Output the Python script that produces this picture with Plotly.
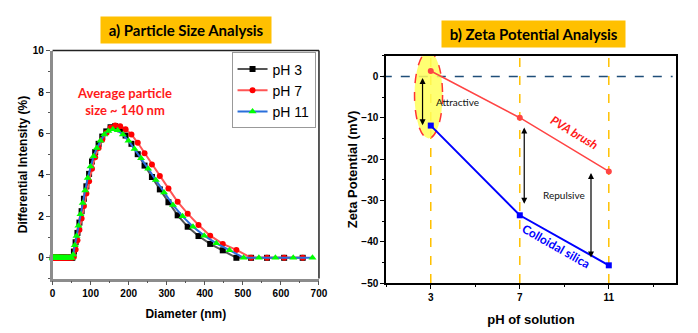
import plotly.graph_objects as go

# ---------------- Panel a: particle size distribution ----------------
diam_a = [0.4, 1.0, 2.0, 3.0, 4.0, 5.0, 6.0, 7.0, 8.0, 9.0, 10.0, 11.0, 12.0, 13.0, 14.0, 15.1,
          16.3, 17.6, 19.0, 20.5, 22.2, 24.0, 25.9, 28.0, 30.2, 32.6, 35.2, 38.1, 41.1, 44.4, 48.0, 51.8,
          56.0, 60.5, 65.3, 70.5, 76.2, 82.3, 88.8, 95.9, 103.6, 111.9, 120.9, 130.5, 141.0, 152.3,
          164.4, 177.6, 191.8, 207.2, 223.7, 241.6, 261.0, 281.8, 304.4, 328.7, 355.0, 383.4, 414.1,
          447.2, 483.0, 521.6, 563.4, 608.5, 657.2]
ph3_int = [0, 0, 0, 0, 0, 0, 0, 0, 0, 0, 0, 0, 0, 0, 0, 0,
           0, 0, 0, 0, 0, 0, 0, 0, 0, 0, 0, 0, 0, 0, 0, 0,
           0.3, 0.75, 1.2, 1.7, 2.25, 2.85, 3.45, 4.05, 4.65, 5.1, 5.5, 5.85, 6.1, 6.3,
           6.35, 6.2, 5.9, 5.5, 5.0, 4.45, 3.9, 3.3, 2.68, 2.05, 1.5, 1.05, 0.67,
           0.36, 0.0, 0.0, 0.0, 0.0, 0.0]
ph7_int = [0, 0, 0, 0, 0, 0, 0, 0, 0, 0, 0, 0, 0, 0, 0, 0,
           0, 0, 0, 0, 0, 0, 0, 0, 0, 0, 0, 0, 0, 0, 0, 0,
           0.05, 0.4, 0.85, 1.35, 1.9, 2.5, 3.1, 3.7, 4.3, 4.85, 5.3, 5.7, 6.02, 6.27,
           6.38, 6.35, 6.2, 5.95, 5.55, 5.05, 4.5, 3.95, 3.35, 2.7, 2.13, 1.58, 1.07,
           0.67, 0.38, 0.0, 0.0, 0.0, 0.0]
diam_b = [0.5, 1.5, 2.5, 3.5, 4.5, 5.5, 6.5, 7.5, 8.5, 9.5, 10.5, 11.5, 12.5, 13.5, 14.6, 15.7,
          16.9, 18.3, 19.7, 21.3, 23.1, 24.9, 26.9, 29.1, 31.4, 33.9, 36.6, 39.6, 42.7, 46.1, 49.9,
          53.9, 58.2, 62.9, 67.9, 73.3, 79.2, 85.5, 92.3, 99.7, 107.7, 116.3, 125.6, 135.7, 146.5,
          158.2, 170.9, 184.6, 199.4, 215.3, 232.5, 251.1, 271.2, 292.9, 316.3, 341.6, 368.9, 398.5,
          430.3, 464.8, 502.0, 542.1, 585.5, 632.4, 683.0]
ph11_int = [0, 0, 0, 0, 0, 0, 0, 0, 0, 0, 0, 0, 0, 0, 0, 0,
            0, 0, 0, 0, 0, 0, 0, 0, 0, 0, 0, 0, 0, 0, 0,
            0.15, 0.6, 1.05, 1.55, 2.1, 2.65, 3.25, 3.85, 4.4, 4.9, 5.3, 5.65, 5.95, 6.12,
            6.2, 6.15, 5.95, 5.65, 5.25, 4.8, 4.3, 3.75, 3.15, 2.55, 2.0, 1.5, 1.07,
            0.7, 0.37, 0.0, 0.0, 0.0, 0.0, 0.0]

# ---------------- Panel b: zeta potential ----------------
ph_vals = [3, 7, 11]
pva_zeta = [1.3, -10.0, -23.0]
silica_zeta = [-11.9, -33.6, -45.7]

BOLD = "Liberation Sans"
GILL = "Lato"

fig = go.Figure()
fig.add_trace(go.Scatter(x=diam_a, y=ph3_int, name="pH 3", mode="lines+markers",
                         line=dict(color="#555555", width=2),
                         marker=dict(symbol="square", size=6, color="#000000"),
                         cliponaxis=False, xaxis="x", yaxis="y"))
fig.add_trace(go.Scatter(x=diam_a, y=ph7_int, name="pH 7", mode="lines+markers",
                         line=dict(color="#ff5555", width=2),
                         marker=dict(symbol="circle", size=6, color="#ff0000"),
                         cliponaxis=False, xaxis="x", yaxis="y"))
fig.add_trace(go.Scatter(x=diam_b, y=ph11_int, name="pH 11", mode="lines+markers",
                         line=dict(color="#2a6fdb", width=2),
                         marker=dict(symbol="triangle-up", size=7, color="#00ff00"),
                         cliponaxis=False, xaxis="x", yaxis="y"))

fig.add_trace(go.Scatter(x=ph_vals, y=pva_zeta, mode="lines+markers", showlegend=False,
                         line=dict(color="#ff4444", width=1.5),
                         marker=dict(symbol="circle", size=6, color="#ff4444"),
                         cliponaxis=False, xaxis="x2", yaxis="y2"))
fig.add_trace(go.Scatter(x=ph_vals, y=silica_zeta, mode="lines+markers", showlegend=False,
                         line=dict(color="#0000ff", width=2),
                         marker=dict(symbol="square", size=6, color="#0000ff"),
                         cliponaxis=False, xaxis="x2", yaxis="y2"))

tickf = dict(family=BOLD, size=10, color="#000000", weight=700)
titlef = dict(family=BOLD, size=12, color="#000000", weight=700)

fig.update_layout(
    width=698, height=333,
    margin=dict(l=0, r=0, t=0, b=0),
    paper_bgcolor="white", plot_bgcolor="white",
    xaxis=dict(domain=[0.0723, 0.4606], range=[0, 700], dtick=100, tick0=0,
               showline=True, linecolor="#8c8c8c", linewidth=2.5, mirror=False,
               ticks="outside", ticklen=4, tickcolor="#555555", tickwidth=1,
               minor=dict(dtick=50, ticks="outside", ticklen=2, tickcolor="#555555"),
               showgrid=False, zeroline=False, tickfont=tickf,
               title=dict(text="Diameter (nm)", font=titlef, standoff=12), anchor="y"),
    yaxis=dict(domain=[0.1532, 0.8589], range=[-1, 10], dtick=2, tick0=0,
               showline=True, linecolor="#8c8c8c", linewidth=2.5, mirror=False,
               ticks="outside", ticklen=4, tickcolor="#555555", tickwidth=1,
               minor=dict(dtick=1, ticks="outside", ticklen=2, tickcolor="#555555"),
               showgrid=False, zeroline=False, tickfont=tickf,
               title=dict(text="Differential Intensity (%)", font=titlef, standoff=3), anchor="x"),
    xaxis2=dict(domain=[0.5587, 0.9804], range=[1, 14], tickmode="array", tickvals=[3, 7, 11],
                showline=True, linecolor="#000000", linewidth=2, mirror=True,
                ticks="outside", ticklen=4, tickcolor="#000000",
                minor=dict(tick0=1, dtick=2, ticks="outside", ticklen=2, tickcolor="#000000"),
                showgrid=False, zeroline=False, tickfont=tickf,
                title=dict(text="pH of solution", font=dict(family=BOLD, size=13, color="#000", weight=700),
                           standoff=13), anchor="y2"),
    yaxis2=dict(domain=[0.139, 0.843], range=[-50, 5], dtick=10, tick0=0,
                showline=True, linecolor="#000000", linewidth=2, mirror=True,
                ticks="outside", ticklen=4, tickcolor="#000000",
                minor=dict(dtick=5, ticks="outside", ticklen=2, tickcolor="#000000"),
                showgrid=False, zeroline=False, tickfont=tickf,
                title=dict(text="Zeta Potential (mV)", font=dict(family=BOLD, size=13, color="#000", weight=700),
                           standoff=1), anchor="x2"),
    legend=dict(x=0.4556, xanchor="right", y=0.853, yanchor="top",
                bgcolor="white", bordercolor="#999999", borderwidth=1,
                font=dict(family="Liberation Sans", size=14, color="#000"),
                tracegroupgap=0, itemwidth=30),
)

shapes = [
    # top and right frame of panel a
    dict(type="line", xref="x domain", yref="y domain", x0=0, x1=1, y0=1, y1=1,
         line=dict(color="#222222", width=1.5)),
    dict(type="line", xref="x domain", yref="y domain", x0=1, x1=1, y0=0, y1=1,
         line=dict(color="#222222", width=1.5)),
    # ellipse around pH 3
    dict(type="circle", xref="x2", yref="y2", x0=2.27, x1=3.53, y0=-15, y1=6.0,
         fillcolor="rgba(255,255,90,0.85)", line=dict(color="#ff3333", width=1.5, dash="dash"),
         layer="below"),
    # orange vertical dashed lines
    dict(type="line", xref="x2", yref="y2 domain", x0=3, x1=3, y0=0, y1=1.02,
         line=dict(color="#FFC000", width=1.5, dash="dash"), layer="below"),
    dict(type="line", xref="x2", yref="y2 domain", x0=7, x1=7, y0=0, y1=1.0,
         line=dict(color="#FFC000", width=1.5, dash="dash"), layer="below"),
    dict(type="line", xref="x2", yref="y2 domain", x0=11, x1=11, y0=0, y1=1.0,
         line=dict(color="#FFC000", width=1.5, dash="dash"), layer="below"),
    # zero line
    dict(type="line", xref="x2 domain", yref="y2", x0=-0.012, x1=0.99, y0=0, y1=0,
         line=dict(color="#1F4E79", width=1.5, dash="dash"), layer="below"),
]
fig.update_layout(shapes=shapes)

ann = [
    dict(text="<b>&nbsp;a) Particle Size Analysis&nbsp;</b>", xref="paper", yref="paper",
         x=186 / 698, y=1 - 25.5 / 333, xanchor="center", yanchor="middle",
         showarrow=False, bgcolor="#FFC000", borderpad=4,
         font=dict(family=GILL, size=15, color="#000")),
    dict(text="<b>&nbsp;b) Zeta Potential Analysis&nbsp;</b>", xref="paper", yref="paper",
         x=540 / 698, y=1 - 30 / 333, xanchor="center", yanchor="middle",
         showarrow=False, bgcolor="#FFC000", borderpad=4,
         font=dict(family=GILL, size=15, color="#000")),
    dict(text="<b>Average particle<br>size ~ 140 nm</b>", xref="x", yref="y", x=190, y=7.55,
         showarrow=False, align="center",
         font=dict(family=GILL, size=13, color="#ff1a1a")),
    # arrows panel b
    dict(text="", xref="x2", yref="y2", axref="x2", ayref="y2", x=2.63, y=-11.8, ax=2.63, ay=0,
         showarrow=True, arrowhead=2, arrowside="end+start", arrowsize=1, arrowwidth=1.2, arrowcolor="#000"),
    dict(text="", xref="x2", yref="y2", axref="x2", ayref="y2", x=7.2, y=-30.8, ax=7.2, ay=-12,
         showarrow=True, arrowhead=2, arrowside="end+start", arrowsize=1, arrowwidth=1.2, arrowcolor="#000"),
    dict(text="", xref="x2", yref="y2", axref="x2", ayref="y2", x=10.2, y=-43.8, ax=10.2, ay=-23,
         showarrow=True, arrowhead=2, arrowside="end+start", arrowsize=1, arrowwidth=1.2, arrowcolor="#000"),
    dict(text="Attractive", xref="x2", yref="y2", x=4.2, y=-6.1, showarrow=False,
         font=dict(family=GILL, size=10, color="#111")),
    dict(text="Repulsive", xref="x2", yref="y2", x=8.97, y=-28.7, showarrow=False,
         font=dict(family=GILL, size=10, color="#111")),
    dict(text="<b><i>PVA brush</i></b>", xref="x2", yref="y2", x=9.45, y=-13.6, showarrow=False,
         textangle=31, font=dict(family=GILL, size=12, color="#ff1a1a")),
    dict(text="<b>Colloidal silica</b>", xref="x2", yref="y2", x=8.65, y=-41.2, showarrow=False,
         textangle=29.5, font=dict(family=GILL, size=12, color="#0000ff")),
]
fig.update_layout(annotations=ann)

fig.write_html("out.html")
